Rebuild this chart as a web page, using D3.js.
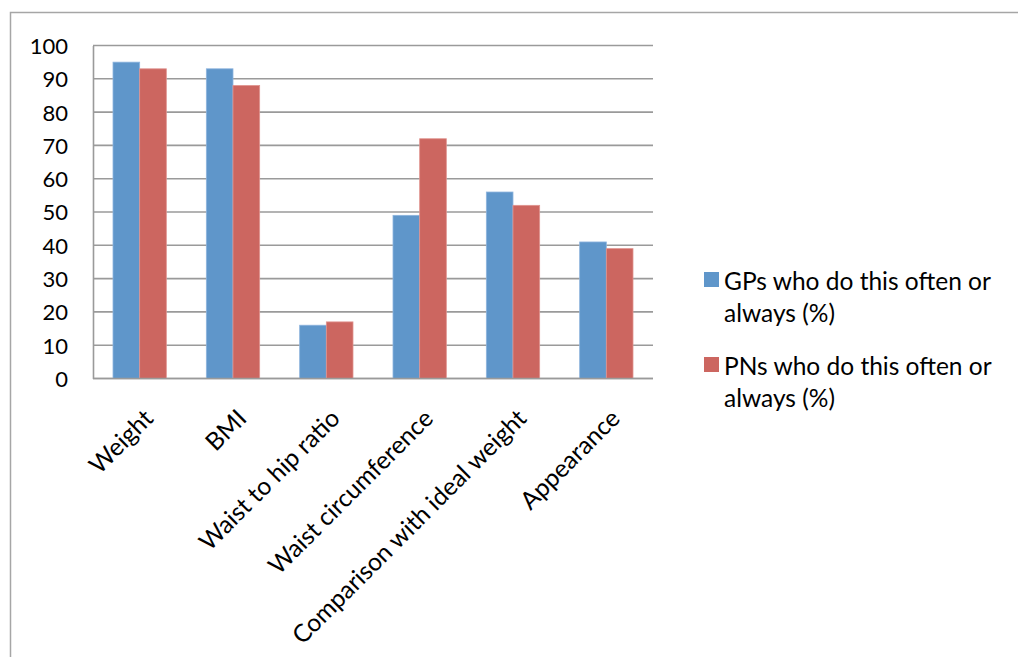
<!DOCTYPE html>
<html>
<head>
<meta charset="utf-8">
<script src="https://cdn.jsdelivr.net/npm/d3@7"></script>
<style>
  html, body { margin: 0; padding: 0; background: #fff; }
  svg { display: block; }
  text { font-family: Lato, "Open Sans", sans-serif; fill: #000; }
</style>
</head>
<body>
<svg id="chart" width="1018" height="657"></svg>
<script>
// Measurement methods for assessing weight status
const categories = ["Weight", "BMI", "Waist to hip ratio", "Waist circumference", "Comparison with ideal weight", "Appearance"];
const gpValues = [95, 93, 16, 49, 56, 41];
const pnValues = [93, 88, 17, 72, 52, 39];
const seriesNames = ["GPs who do this often or always (%)", "PNs who do this often or always (%)"];
const legendLines = [["GPs who do this often or", "always (%)"], ["PNs who do this often or", "always (%)"]];
const yTicks = [0, 10, 20, 30, 40, 50, 60, 70, 80, 90, 100];
const colors = ["#5F96CA", "#CC6660"];
const edgeColors = ["#8DB4DE", "#E09490"];

const svg = d3.select("#chart");

// chart frame
svg.append("path")
  .attr("d", "M10.5,660 V12.5 H1020")
  .attr("fill", "none")
  .attr("stroke", "#A6A6A6")
  .attr("stroke-width", 1.5);

const plot = { left: 93, right: 653, top: 45.5, bottom: 378.5 };

const x = d3.scaleBand()
  .domain(categories)
  .range([plot.left, plot.right])
  .paddingInner(0.4286)
  .paddingOuter(0.2143);

const x1 = d3.scaleBand()
  .domain([0, 1])
  .range([0, x.bandwidth()]);

const y = d3.scaleLinear().domain([0, 100]).range([plot.bottom, plot.top]);

// gridlines
svg.append("g")
  .selectAll("line")
  .data(yTicks)
  .join("line")
  .attr("x1", plot.left)
  .attr("x2", plot.right)
  .attr("y1", d => y(d))
  .attr("y2", d => y(d))
  .attr("stroke", "#9A9A9A")
  .attr("stroke-width", 1.6);

// value axis labels
const yAxis = svg.append("g")
  .attr("transform", `translate(${plot.left},0)`)
  .call(d3.axisLeft(y).tickValues(yTicks).tickSize(0).tickPadding(25));
yAxis.select(".domain").attr("stroke", "#9A9A9A").attr("stroke-width", 1.6);
yAxis.selectAll("text")
  .style("font-family", "Lato, sans-serif")
  .attr("font-size", 22)
  .attr("dy", "0.36em")
  .attr("fill", "#000");

// bars
const series = [gpValues, pnValues];
series.forEach((vals, s) => {
  svg.append("g")
    .selectAll("rect")
    .data(vals)
    .join("rect")
    .attr("x", (d, i) => x(categories[i]) + x1(s))
    .attr("y", d => y(d))
    .attr("width", x1.bandwidth())
    .attr("height", d => y(0) - y(d))
    .attr("fill", colors[s])
    .attr("stroke", edgeColors[s])
    .attr("stroke-width", 0.8);
});

// baseline axis
svg.append("line")
  .attr("x1", plot.left).attr("x2", plot.right)
  .attr("y1", y(0)).attr("y2", y(0))
  .attr("stroke", "#9A9A9A").attr("stroke-width", 1.6);

// rotated category labels, ending just right of each category centre
svg.append("g")
  .selectAll("text")
  .data(categories)
  .join("text")
  .attr("transform", d => `translate(${x(d) + x.bandwidth() / 2 + 15},420) rotate(-45)`)
  .attr("text-anchor", "end")
  .attr("font-size", 24.6)
  .text(d => d);

// legend
const legend = svg.append("g");
const legendTop = [272, 357];
legendLines.forEach((lines, s) => {
  legend.append("rect")
    .attr("x", 704).attr("y", legendTop[s])
    .attr("width", 15).attr("height", 15)
    .attr("fill", colors[s]);
  legend.append("text")
    .attr("x", 724)
    .attr("y", legendTop[s] + 18)
    .attr("font-size", 24.5)
    .selectAll("tspan")
    .data(lines)
    .join("tspan")
    .attr("x", 724)
    .attr("dy", (d, i) => i === 0 ? 0 : 31.7)
    .text(d => d);
});
</script>
</body>
</html>
